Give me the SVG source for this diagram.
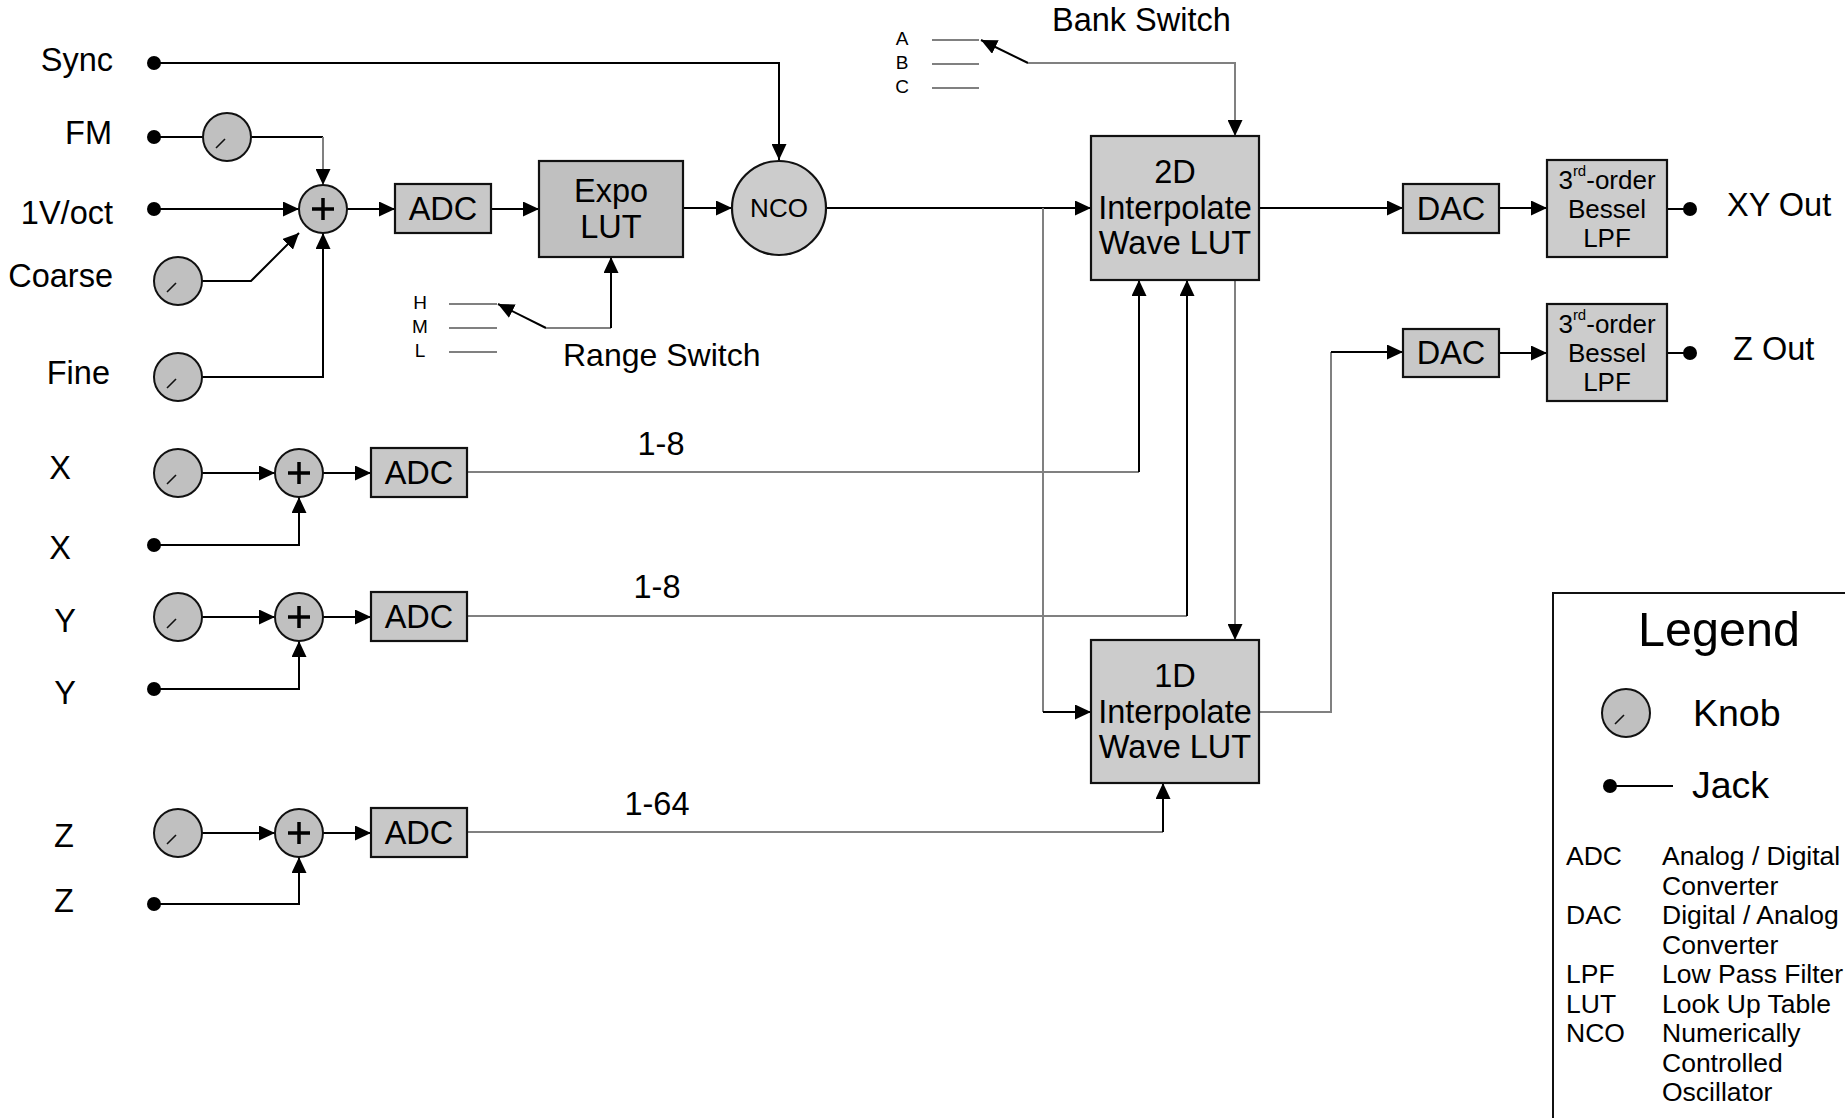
<svg xmlns="http://www.w3.org/2000/svg" width="1845" height="1118" viewBox="0 0 1845 1118">
<defs>
<marker id="arr" markerUnits="userSpaceOnUse" markerWidth="16" markerHeight="15" refX="16" refY="7.5" orient="auto">
<path d="M0,0 L16,7.5 L0,15 z" fill="#000"/>
</marker>
<style>
text{font-family:"Liberation Sans",Arial,sans-serif;fill:#000}
.t31{font-size:32.5px}
.lbl{font-size:32.5px;text-anchor:end}
.mid{text-anchor:middle}
.sm{font-size:19px;text-anchor:middle}
.lpf{font-size:26px;text-anchor:middle}
.leg{font-size:26.5px}
.box{stroke:#111;stroke-width:2.2}
.knob{fill:#c0c0c0;stroke:#111;stroke-width:2}
.ind{stroke:#111;stroke-width:1.6}
.plus{stroke:#000;stroke-width:3.5}
.c{fill:none;stroke:#000;stroke-width:2}
.g{fill:none;stroke:#808080;stroke-width:2}
.a{marker-end:url(#arr)}
</style>
</defs>
<rect width="1845" height="1118" fill="#fff"/>

<g id="connectors">
<path class="c a" d="M154,63 H779 V160"/>
<path class="c" d="M154,137 H203"/>
<path class="c" d="M251,137 H323"/>
<path class="g a" d="M323,137 V185"/>
<path class="c a" d="M154,209 H299"/>
<path class="c a" d="M202,281 H251 L299,233"/>
<path class="c a" d="M202,377 H323 V233"/>
<path class="c a" d="M347,209 H395"/>
<path class="c a" d="M491,209 H539"/>
<path class="c a" d="M683,208 H732"/>
<path class="c a" d="M826,208 H1091"/>
<path class="g" d="M1043,208 V712"/>
<path class="c a" d="M1043,712 H1091"/>
<path class="g" d="M449,304 H497 M449,328 H497 M449,352 H497"/>
<path class="c a" d="M546,328 L498,304"/>
<path class="g" d="M546,328 H611"/>
<path class="c a" d="M611,328 V257"/>
<path class="g" d="M932,40 H979 M932,64 H979 M932,88 H979"/>
<path class="c a" d="M1028,63 L981,40"/>
<path class="g a" d="M1028,63 H1235 V136"/>
<path class="g a" d="M1235,280 V640"/>
<path class="c a" d="M1259,208 H1403"/>
<path class="c a" d="M1499,208 H1547"/>
<path class="c" d="M1667,209 H1690"/>
<path class="g" d="M1259,712 H1331 V352"/>
<path class="c a" d="M1331,352 H1403"/>
<path class="c a" d="M1499,353 H1547"/>
<path class="c" d="M1667,353 H1690"/>
<path class="c a" d="M202,473 H275"/>
<path class="c a" d="M323,473 H371"/>
<path class="c a" d="M154,545 H299 V497"/>
<path class="g" d="M467,472 H1139"/>
<path class="c a" d="M1139,472 V280"/>
<path class="c a" d="M202,617 H275"/>
<path class="c a" d="M323,617 H371"/>
<path class="c a" d="M154,689 H299 V641"/>
<path class="g" d="M467,616 H1187"/>
<path class="c a" d="M1187,616 V280"/>
<path class="c a" d="M202,833 H275"/>
<path class="c a" d="M323,833 H371"/>
<path class="c a" d="M154,904 H299 V857"/>
<path class="g" d="M467,832 H1163"/>
<path class="c a" d="M1163,832 V783"/>
</g>

<g id="jack-sync"><circle cx="154" cy="63" r="7"/><text class="lbl" x="113" y="71">Sync</text></g>
<g id="jack-fm"><circle cx="154" cy="137" r="7"/><text class="lbl" x="112" y="144">FM</text></g>
<g id="knob-fm"><circle class="knob" cx="227" cy="137" r="24"/><line class="ind" x1="216" y1="148" x2="225" y2="139"/></g>
<g id="jack-voct"><circle cx="154" cy="209" r="7"/><text class="lbl" x="113" y="224">1V/oct</text></g>
<g id="knob-coarse"><circle class="knob" cx="178" cy="281" r="24"/><line class="ind" x1="167" y1="292" x2="176" y2="283"/><text class="lbl" x="113" y="287">Coarse</text></g>
<g id="knob-fine"><circle class="knob" cx="178" cy="377" r="24"/><line class="ind" x1="167" y1="388" x2="176" y2="379"/><text class="lbl" x="110" y="384">Fine</text></g>
<g id="sum-pitch"><circle class="knob" cx="323" cy="209" r="24"/><path class="plus" d="M312,209 H334 M323,198 V220"/></g>
<g id="adc-pitch"><rect class="box" x="395" y="184" width="96" height="49" fill="#c8c8c8"/><text class="t31 mid" x="443" y="220">ADC</text></g>
<g id="expo-lut"><rect class="box" x="539" y="161" width="144" height="96" fill="#c0c0c0"/><text class="t31 mid" x="611" y="202">Expo</text><text class="t31 mid" x="611" y="238">LUT</text></g>
<g id="nco"><circle cx="779" cy="208" r="47" fill="#cccccc" stroke="#111" stroke-width="2.2"/><text class="mid" x="779" y="217" font-size="26">NCO</text></g>
<g id="range-switch"><text class="sm" x="420" y="309">H</text><text class="sm" x="420" y="333">M</text><text class="sm" x="420" y="357">L</text><text x="563" y="366" font-size="32">Range Switch</text></g>
<g id="bank-switch"><text class="sm" x="902" y="45">A</text><text class="sm" x="902" y="69">B</text><text class="sm" x="902" y="93">C</text><text class="t31" x="1052" y="31">Bank Switch</text></g>
<g id="lut-2d"><rect class="box" x="1091" y="136" width="168" height="144" fill="#cccccc"/><text class="t31 mid" x="1175" y="183">2D</text><text class="t31 mid" x="1175" y="219">Interpolate</text><text class="t31 mid" x="1175" y="254">Wave LUT</text></g>
<g id="lut-1d"><rect class="box" x="1091" y="640" width="168" height="143" fill="#cccccc"/><text class="t31 mid" x="1175" y="687">1D</text><text class="t31 mid" x="1175" y="723">Interpolate</text><text class="t31 mid" x="1175" y="758">Wave LUT</text></g>
<g id="dac-xy"><rect class="box" x="1403" y="184" width="96" height="49" fill="#c8c8c8"/><text class="t31 mid" x="1451" y="220">DAC</text></g>
<g id="lpf-xy"><rect class="box" x="1547" y="160" width="120" height="97" fill="#cccccc"/><text class="lpf" x="1607" y="189">3<tspan font-size="15" dy="-13">rd</tspan><tspan dy="13">-order</tspan></text><text class="lpf" x="1607" y="218">Bessel</text><text class="lpf" x="1607" y="247">LPF</text></g>
<g id="out-xy"><circle cx="1690" cy="209" r="7"/><text class="t31" x="1727" y="216">XY Out</text></g>
<g id="dac-z"><rect class="box" x="1403" y="329" width="96" height="48" fill="#c8c8c8"/><text class="t31 mid" x="1451" y="364">DAC</text></g>
<g id="lpf-z"><rect class="box" x="1547" y="304" width="120" height="97" fill="#cccccc"/><text class="lpf" x="1607" y="333">3<tspan font-size="15" dy="-13">rd</tspan><tspan dy="13">-order</tspan></text><text class="lpf" x="1607" y="362">Bessel</text><text class="lpf" x="1607" y="391">LPF</text></g>
<g id="out-z"><circle cx="1690" cy="353" r="7"/><text class="t31" x="1733" y="360">Z Out</text></g>

<g id="row-x">
<text class="t31 mid" x="60" y="479">X</text>
<circle class="knob" cx="178" cy="473" r="24"/><line class="ind" x1="167" y1="484" x2="176" y2="475"/>
<circle class="knob" cx="299" cy="473" r="24"/><path class="plus" d="M288,473 H310 M299,462 V484"/>
<rect class="box" x="371" y="448" width="96" height="49" fill="#c8c8c8"/><text class="t31 mid" x="419" y="484">ADC</text>
<text class="t31 mid" x="60" y="559">X</text><circle cx="154" cy="545" r="7"/>
<text class="t31 mid" x="661" y="455">1-8</text>
</g>
<g id="row-y">
<text class="t31 mid" x="65" y="632">Y</text>
<circle class="knob" cx="178" cy="617" r="24"/><line class="ind" x1="167" y1="628" x2="176" y2="619"/>
<circle class="knob" cx="299" cy="617" r="24"/><path class="plus" d="M288,617 H310 M299,606 V628"/>
<rect class="box" x="371" y="592" width="96" height="49" fill="#c8c8c8"/><text class="t31 mid" x="419" y="628">ADC</text>
<text class="t31 mid" x="65" y="704">Y</text><circle cx="154" cy="689" r="7"/>
<text class="t31 mid" x="657" y="598">1-8</text>
</g>
<g id="row-z">
<text class="t31 mid" x="64" y="847">Z</text>
<circle class="knob" cx="178" cy="833" r="24"/><line class="ind" x1="167" y1="844" x2="176" y2="835"/>
<circle class="knob" cx="299" cy="833" r="24"/><path class="plus" d="M288,833 H310 M299,822 V844"/>
<rect class="box" x="371" y="808" width="96" height="49" fill="#c8c8c8"/><text class="t31 mid" x="419" y="844">ADC</text>
<text class="t31 mid" x="64" y="912">Z</text><circle cx="154" cy="904" r="7"/>
<text class="t31 mid" x="657" y="815">1-64</text>
</g>

<g id="legend">
<rect x="1553" y="593" width="400" height="600" fill="none" stroke="#111" stroke-width="2"/>
<text class="mid" x="1719" y="646" font-size="48.5">Legend</text>
<circle class="knob" cx="1626" cy="713" r="24"/><line class="ind" x1="1615" y1="724" x2="1624" y2="715"/>
<text x="1693" y="726" font-size="37.5">Knob</text>
<circle cx="1610" cy="786" r="7"/><path class="c" d="M1610,786 H1673"/>
<text x="1692" y="798" font-size="37.5">Jack</text>
<text class="leg" x="1566" y="865">ADC</text><text class="leg" x="1662" y="865">Analog / Digital</text>
<text class="leg" x="1662" y="894.5">Converter</text>
<text class="leg" x="1566" y="924">DAC</text><text class="leg" x="1662" y="924">Digital / Analog</text>
<text class="leg" x="1662" y="953.5">Converter</text>
<text class="leg" x="1566" y="983">LPF</text><text class="leg" x="1662" y="983">Low Pass Filter</text>
<text class="leg" x="1566" y="1012.5">LUT</text><text class="leg" x="1662" y="1012.5">Look Up Table</text>
<text class="leg" x="1566" y="1042">NCO</text><text class="leg" x="1662" y="1042">Numerically</text>
<text class="leg" x="1662" y="1071.5">Controlled</text>
<text class="leg" x="1662" y="1101">Oscillator</text>
</g>
</svg>
